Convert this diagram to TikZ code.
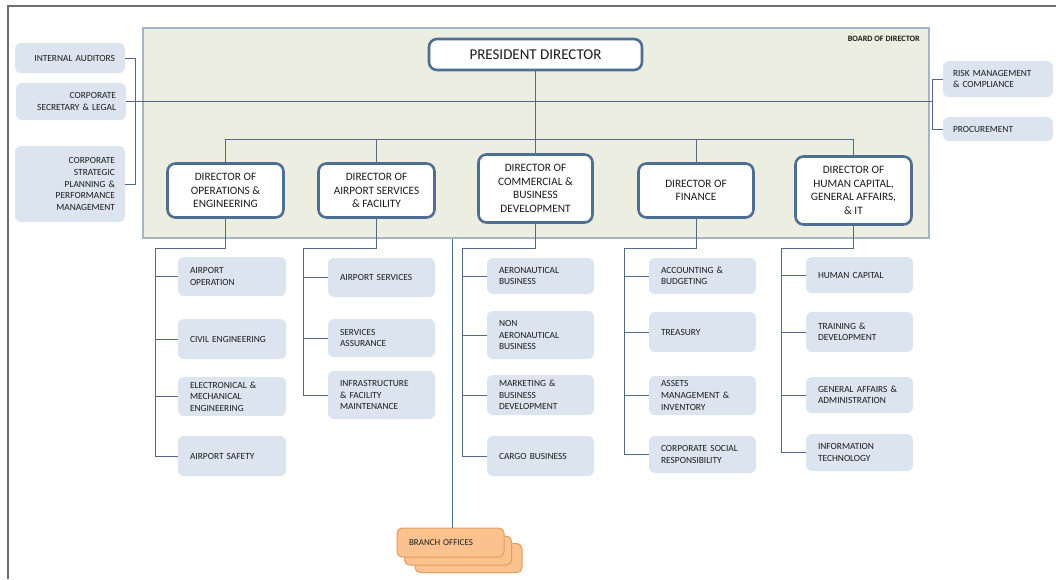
\documentclass[tikz,border=0pt]{standalone}
\usepackage{fontspec}
\setmainfont{Carlito}
\definecolor{boardfill}{HTML}{EBEEE1}
\definecolor{boardline}{HTML}{A3B5C7}
\definecolor{dirline}{HTML}{4E6E94}
\definecolor{conline}{HTML}{52698A}
\definecolor{subfill}{HTML}{DBE4EF}
\definecolor{txt}{HTML}{1C1C1C}
\definecolor{brfill}{HTML}{FBC290}
\definecolor{brline}{HTML}{E29C5C}
\definecolor{frame}{HTML}{6E6E6E}
\tikzset{
  boardbox/.style={draw=boardline, line width=1.2pt, fill=boardfill},
  dirbox/.style={draw=dirline, line width=2.6pt, rounded corners=8pt, fill=white, align=center, text=txt,
     font=\fontsize{11.3}{13.5}\selectfont, inner sep=0pt},
  presbox/.style={dirbox, font=\fontsize{15}{17}\selectfont},
  subbox/.style={fill=subfill, rounded corners=6pt, align=left, text=txt, inner ysep=0pt, inner xsep=12pt,
     font=\fontsize{9.4}{11.6}\selectfont, text width=#1},
  subbox/.default=83pt,
  sidebox/.style={fill=subfill, rounded corners=6pt, text=txt, inner ysep=0pt, inner xsep=10pt,
     font=\fontsize{9.4}{11.6}\selectfont, text width=90pt},
  brbox/.style={draw=brline, line width=1pt, fill=brfill, rounded corners=5pt, minimum width=107pt, minimum height=29pt,
     align=left, text=txt, font=\fontsize{9}{11}\selectfont, inner xsep=12pt, text width=83pt},
  con/.style={draw=conline, line width=0.9pt},
}
\begin{document}
\begin{tikzpicture}[x=1pt,y=-1pt]
\useasboundingbox (0,0) rectangle (1056,579);
\draw[frame, line width=2pt] (8,579) -- (8,6) -- (1056,6);
% board
\node[boardbox, minimum width=786pt, minimum height=210pt, inner sep=0pt] (board) at (536,133) {};
\node[anchor=east, font=\fontsize{8.2}{9}\selectfont\bfseries, text=txt, inner sep=0pt] (boardlbl) at (920,39) {BOARD OF DIRECTOR};
% coordinates
\coordinate (rowy) at (0,139);
\coordinate (lb) at (135,0);
\coordinate (rb) at (932,0);
\coordinate (subrow) at (0,248);
\coordinate (vops) at (155,0);
\coordinate (vas) at (303,0);
\coordinate (vcom) at (462,0);
\coordinate (vfin) at (624,0);
\coordinate (vhc) at (781,0);
% president and directors
\node[presbox, minimum width=213pt, minimum height=31pt] (pres) at (535.5,54.5) {PRESIDENT DIRECTOR};
\node[dirbox, minimum width=116pt, minimum height=54pt] (dops) at (225.5,190.5) {DIRECTOR OF\\OPERATIONS \&\\ENGINEERING};
\node[dirbox, minimum width=116pt, minimum height=54pt] (das) at (376.5,190.5) {DIRECTOR OF\\AIRPORT SERVICES\\\& FACILITY};
\node[dirbox, minimum width=114pt, minimum height=68pt] (dcom) at (535.5,188.5) {DIRECTOR OF\\COMMERCIAL \&\\BUSINESS\\DEVELOPMENT};
\node[dirbox, minimum width=115pt, minimum height=54pt] (dfin) at (696,190.5) {DIRECTOR OF\\FINANCE};
\node[dirbox, minimum width=116pt, minimum height=68pt] (dhc) at (853.5,190.5) {DIRECTOR OF\\HUMAN CAPITAL,\\GENERAL AFFAIRS,\\\& IT};
% side boxes
\node[sidebox, align=right, minimum height=30pt] (ia) at (70,58) {INTERNAL AUDITORS};
\node[sidebox, align=right, minimum height=37pt] (cs) at (71,101.5) {CORPORATE\\SECRETARY \& LEGAL};
\node[sidebox, align=right, minimum height=76pt] (csp) at (70,184) {CORPORATE\\STRATEGIC\\PLANNING \&\\PERFORMANCE\\MANAGEMENT};
\node[sidebox, align=left, minimum height=36pt] (risk) at (998,79) {RISK MANAGEMENT\\\& COMPLIANCE};
\node[sidebox, align=left, minimum height=24pt] (proc) at (998,129) {PROCUREMENT};
% operations column
\node[subbox=84pt, minimum height=39pt] (aop) at (232,276.5) {AIRPORT\\OPERATION};
\node[subbox=84pt, minimum height=40pt] (civ) at (232,339) {CIVIL ENGINEERING};
\node[subbox=84pt, minimum height=39pt] (ele) at (232,396.5) {ELECTRONICAL \&\\MECHANICAL\\ENGINEERING};
\node[subbox=84pt, minimum height=40pt] (saf) at (232,456) {AIRPORT SAFETY};
% airport services column
\node[subbox, minimum height=39pt] (asv) at (381.5,277.5) {AIRPORT SERVICES};
\node[subbox, minimum height=38pt] (sas) at (381.5,338) {SERVICES\\ASSURANCE};
\node[subbox, minimum height=48pt] (inf) at (381.5,395) {INFRASTRUCTURE\\\& FACILITY\\MAINTENANCE};
% commercial column
\node[subbox, minimum height=36pt] (aer) at (540.5,276) {AERONAUTICAL\\BUSINESS};
\node[subbox, minimum height=48pt] (nae) at (540.5,335) {NON\\AERONAUTICAL\\BUSINESS};
\node[subbox, minimum height=40pt] (mkt) at (540.5,395) {MARKETING \&\\BUSINESS\\DEVELOPMENT};
\node[subbox, minimum height=40pt] (cargo) at (540.5,456) {CARGO BUSINESS};
% finance column
\node[subbox, minimum height=36pt] (acc) at (702.5,276) {ACCOUNTING \&\\BUDGETING};
\node[subbox, minimum height=40pt] (tre) at (702.5,332) {TREASURY};
\node[subbox, minimum height=39pt] (ast) at (702.5,395.5) {ASSETS\\MANAGEMENT \&\\INVENTORY};
\node[subbox, minimum height=37pt] (csr) at (702.5,454.5) {CORPORATE SOCIAL\\RESPONSIBILITY};
% human capital column
\node[subbox, minimum height=36pt] (hcap) at (859.5,275) {HUMAN CAPITAL};
\node[subbox, minimum height=40pt] (trn) at (859.5,332) {TRAINING \&\\DEVELOPMENT};
\node[subbox, minimum height=36pt] (gaa) at (859.5,395) {GENERAL AFFAIRS \&\\ADMINISTRATION};
\node[subbox, minimum height=37pt] (itn) at (859.5,452.5) {INFORMATION\\TECHNOLOGY};
% branch offices
\node[brbox] (br3) at (468.5,558) {};
\node[brbox] (br2) at (458,550.5) {};
\node[brbox] (br1) at (450.5,542.5) {BRANCH OFFICES};
% connectors: top
\draw[con] (pres.south) -- (dcom.north);
\draw[con] (dops.north) |- (rowy -| dhc.north) -- (dhc.north);
\draw[con] (das.north) -- (das.north |- rowy);
\draw[con] (dfin.north) -- (dfin.north |- rowy);
\draw[con] (cs.east) -- (cs.east -| rb);
\draw[con] (ia.east) -- (ia.east -| lb) -- (csp.east -| lb) -- (csp.east);
\draw[con] (risk.west) -- (risk.west -| rb) -- (proc.west -| rb) -- (proc.west);
% operations
\draw[con] (dops.south) |- (subrow -| vops) -- (saf.west -| vops) -- (saf.west);
\foreach \n in {aop,civ,ele} \draw[con] (\n.west -| vops) -- (\n.west);
% airport services
\draw[con] (das.south) |- (subrow -| vas) -- (inf.west -| vas) -- (inf.west);
\foreach \n in {asv,sas} \draw[con] (\n.west -| vas) -- (\n.west);
% commercial
\draw[con] (dcom.south) |- (subrow -| vcom) -- (cargo.west -| vcom) -- (cargo.west);
\foreach \n in {aer,nae,mkt} \draw[con] (\n.west -| vcom) -- (\n.west);
% finance
\draw[con] (dfin.south) |- (subrow -| vfin) -- (csr.west -| vfin) -- (csr.west);
\foreach \n in {acc,tre,ast} \draw[con] (\n.west -| vfin) -- (\n.west);
% human capital
\draw[con] (dhc.south) |- (subrow -| vhc) -- (itn.west -| vhc) -- (itn.west);
\foreach \n in {hcap,trn,gaa} \draw[con] (\n.west -| vhc) -- (\n.west);
% branch
\draw[con] ([xshift=1.5pt]br1.north |- board.south) -- ([xshift=1.5pt]br1.north);
\end{tikzpicture}
\end{document}
